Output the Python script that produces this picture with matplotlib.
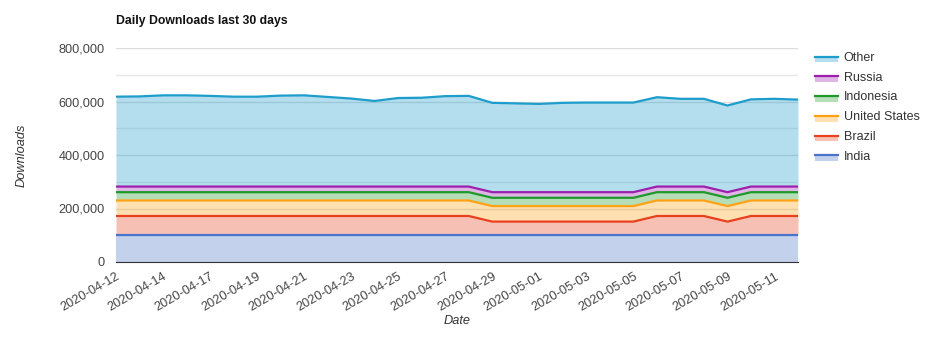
import numpy as np
import matplotlib
matplotlib.use("Agg")
import matplotlib.pyplot as plt
from matplotlib.legend_handler import HandlerBase
from matplotlib.patches import Rectangle
from matplotlib.lines import Line2D
from matplotlib.ticker import FuncFormatter, MultipleLocator

plt.rcParams['font.family'] = ['Liberation Sans', 'DejaVu Sans']

dates = ["2020-04-12", "2020-04-13", "2020-04-14", "2020-04-16", "2020-04-17",
         "2020-04-18", "2020-04-19", "2020-04-20", "2020-04-21", "2020-04-22",
         "2020-04-23", "2020-04-24", "2020-04-25", "2020-04-26", "2020-04-27",
         "2020-04-28", "2020-04-29", "2020-04-30", "2020-05-01", "2020-05-02",
         "2020-05-03", "2020-05-04", "2020-05-05", "2020-05-06", "2020-05-07",
         "2020-05-08", "2020-05-09", "2020-05-10", "2020-05-11", "2020-05-12"]

india = [100000] * 30
brazil = [72000] * 16 + [51000] * 7 + [72000] * 3 + [51000] + [72000] * 3
united_states = [58000] * 30
indonesia = [31000] * 30
russia = [21000] * 30
other = [336000, 337000, 341000, 341000, 339000, 336000, 336000, 340000, 341000, 335000,
         329000, 320000, 331000, 332000, 338000, 339000, 334000, 332000, 330000, 334000,
         335000, 335000, 335000, 334000, 328000, 328000, 324000, 326000, 328000, 325000]

series_names = ["India", "Brazil", "United States", "Indonesia", "Russia", "Other"]
series = [india, brazil, united_states, indonesia, russia, other]
colors = ["#4a74c9", "#e8411d", "#ffa214", "#1f9a2a", "#9c1fad", "#1d9dcc"]

fig = plt.figure(figsize=(9.31, 3.58), dpi=100)
ax = fig.add_axes([116 / 931, 1 - 262 / 358, (798 - 116) / 931, (262 - 48) / 358])

x = np.arange(len(dates))
base = np.zeros(len(dates))
for name, vals, c in zip(series_names, series, colors):
    top = base + np.array(vals)
    ax.fill_between(x, base, top, color=c, alpha=0.33, linewidth=0, zorder=2)
    ax.plot(x, top, color=c, lw=1.6, zorder=3)
    base = top

ax.set_xlim(0, len(dates) - 1)
ax.set_ylim(0, 800000)
ax.yaxis.set_major_locator(MultipleLocator(200000))
ax.yaxis.set_minor_locator(MultipleLocator(100000))
ax.yaxis.set_major_formatter(FuncFormatter(lambda v, p: f"{int(v):,}"))
ax.grid(axis='y', which='major', color='#dddddd', lw=1, zorder=1)
ax.grid(axis='y', which='minor', color='#e8e8e8', lw=1, zorder=1)
ax.set_axisbelow(True)
ax.set_xticks(x[::2])
ax.set_xticklabels(dates[::2], rotation=30, ha='right', rotation_mode='anchor')
ax.tick_params(axis='both', which='both', length=0, labelsize=9.2, colors='#444444')
ax.tick_params(axis='x', pad=6)
ax.tick_params(axis='y', pad=8)
for s in ['top', 'right', 'left']:
    ax.spines[s].set_visible(False)
ax.spines['bottom'].set_color('#333333')
ax.spines['bottom'].set_zorder(5)

ax.set_xlabel("Date", style='italic', fontsize=9.2, color='#333333', labelpad=1)
ax.set_ylabel("Downloads", style='italic', fontsize=9.2, color='#333333', labelpad=22)
fig.text(116 / 931, 1 - 21 / 358, "Daily Downloads last 30 days", fontsize=8.8,
         fontweight='bold', ha='left', va='center', color='#111111')


class AreaHandler(HandlerBase):
    def create_artists(self, legend, orig_handle, xdescent, ydescent, width, height, fontsize, trans):
        c = orig_handle.get_color()
        rect = Rectangle((-xdescent, -ydescent - height * 0.15), width, height * 0.65,
                         facecolor=c, alpha=0.33, edgecolor='none', transform=trans)
        line = Line2D([-xdescent, -xdescent + width], [-ydescent + height * 0.5] * 2,
                      color=c, lw=1.6, transform=trans)
        return [rect, line]


handles = [Line2D([], [], color=c) for c in colors][::-1]
labels = series_names[::-1]
leg = fig.legend(handles, labels, handler_map={Line2D: AreaHandler()},
                 loc='upper left', bbox_to_anchor=(810 / 931, 1 - 47 / 358),
                 frameon=False, fontsize=9, handlelength=1.85, handletextpad=0.45,
                 labelspacing=0.62, borderaxespad=0)
for t in leg.get_texts():
    t.set_color('#333333')

fig.savefig("out.png", dpi=100)
